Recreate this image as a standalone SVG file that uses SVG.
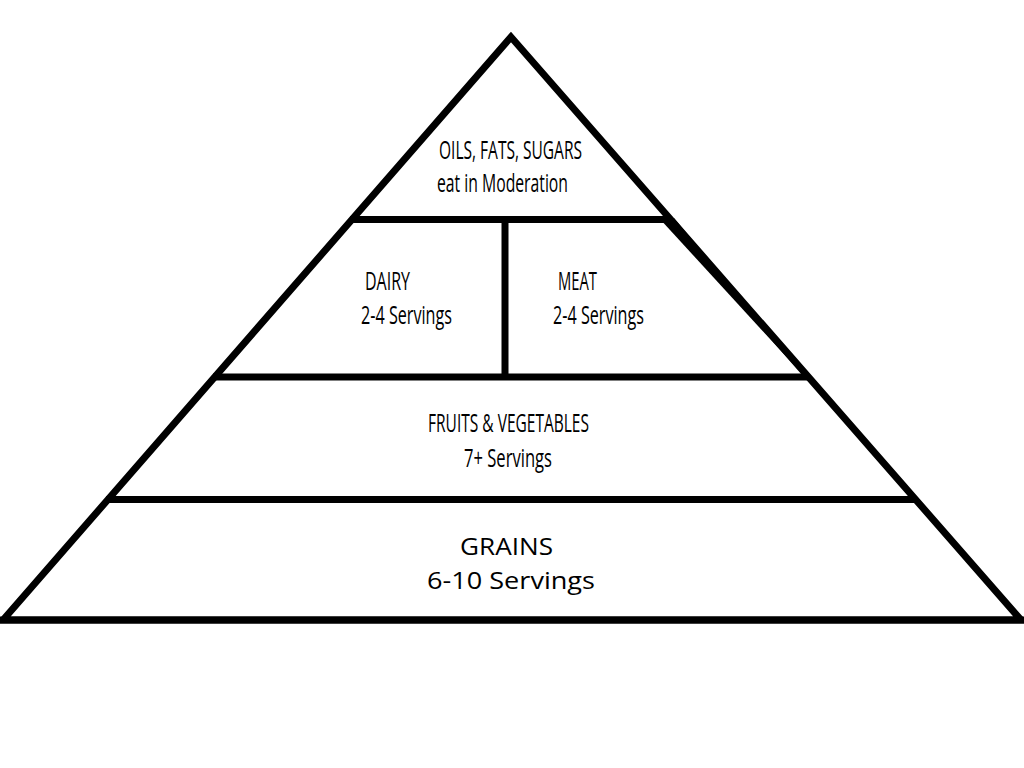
<svg xmlns="http://www.w3.org/2000/svg" width="1024" height="768" viewBox="0 0 1024 768">
  <style>
    .ln { stroke: #000; stroke-width: 7; fill: none; }
    .c { font-family: "Open Sans", "Liberation Sans", sans-serif; font-size: 25px; fill: #000; }
    .g { font-family: "Open Sans", "Liberation Sans", sans-serif; font-size: 24px; fill: #000; }
  </style>
  <rect width="1024" height="768" fill="#fff"/>
  <g id="outline">
    <polygon class="ln" points="3,620 511,37 1021,620" stroke-linejoin="miter"/>
    <line class="ln" x1="0" y1="620" x2="1024" y2="620"/>
    <line class="ln" x1="350" y1="219.5" x2="672" y2="219.5"/>
    <line class="ln" x1="213" y1="377" x2="809" y2="377"/>
    <line class="ln" x1="106" y1="499.5" x2="917" y2="499.5"/>
    <line class="ln" x1="505" y1="219" x2="505" y2="377"/>
    <polygon points="659,218 674,218 804,376" fill="#000"/>
  </g>
  <g id="oils">
    <text class="c" x="439" y="159" textLength="143" lengthAdjust="spacingAndGlyphs">OILS, FATS, SUGARS</text>
    <text class="c" x="437" y="192" textLength="131" lengthAdjust="spacingAndGlyphs">eat in Moderation</text>
  </g>
  <g id="dairy">
    <text class="c" x="365" y="290" textLength="45" lengthAdjust="spacingAndGlyphs">DAIRY</text>
    <text class="c" x="361" y="324" textLength="91" lengthAdjust="spacingAndGlyphs">2-4 Servings</text>
  </g>
  <g id="meat">
    <text class="c" x="558" y="290" textLength="39" lengthAdjust="spacingAndGlyphs">MEAT</text>
    <text class="c" x="553" y="324" textLength="91" lengthAdjust="spacingAndGlyphs">2-4 Servings</text>
  </g>
  <g id="fruits">
    <text class="c" x="428" y="432" textLength="161" lengthAdjust="spacingAndGlyphs">FRUITS &amp; VEGETABLES</text>
    <text class="c" x="464" y="467" textLength="88" lengthAdjust="spacingAndGlyphs">7+ Servings</text>
  </g>
  <g id="grains">
    <text class="g" x="460" y="555" textLength="93" lengthAdjust="spacingAndGlyphs">GRAINS</text>
    <text class="g" x="427" y="589" textLength="168" lengthAdjust="spacingAndGlyphs">6-10 Servings</text>
  </g>
</svg>
